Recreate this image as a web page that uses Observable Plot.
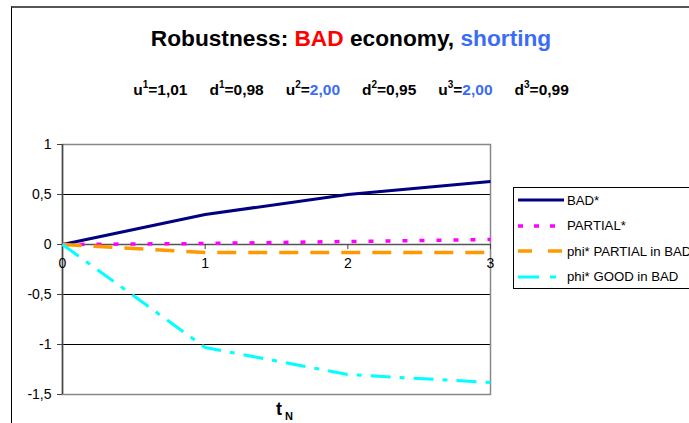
<!DOCTYPE html>
<html><head><meta charset="utf-8">
<script src="https://cdn.jsdelivr.net/npm/d3@7"></script>
<script src="https://cdn.jsdelivr.net/npm/@observablehq/plot@0.6"></script>
<style>
body{margin:0;background:#fff;font-family:"Liberation Sans",Arial,sans-serif;}
#wrap{position:relative;width:689px;height:423px;overflow:hidden;background:#fff;}
#border{position:absolute;left:11px;top:6px;width:700px;height:440px;border-top:2px solid #555;border-left:1px solid #000;}
#title{position:absolute;left:0;top:25px;width:702px;text-align:center;font-weight:bold;font-size:22.7px;color:#000;white-space:nowrap;}
#sub{position:absolute;left:0;top:81px;width:702px;text-align:center;font-weight:bold;font-size:15.5px;color:#000;white-space:nowrap;}
#sub span.it{margin:0 11px;}
#sub sup{font-size:10px;vertical-align:7px;line-height:0;}
.blue{color:#3a6cf4;}
.red{color:#ff0000;}
#chart{position:absolute;left:0;top:0;}
#xlab{position:absolute;left:276px;top:399px;font-weight:bold;font-size:18px;}
#xlab sub{font-size:11px;vertical-align:-5px;line-height:0;margin-left:3px;}
#legend{position:absolute;left:513px;top:187px;width:200px;height:100px;border:1px solid #000;background:#fff;font-size:13.2px;}
#legend .row{position:absolute;left:3px;height:20px;display:flex;align-items:center;white-space:nowrap;}
#legend svg{margin-right:2px;}
</style></head>
<body>
<div id="wrap">
  <div id="border"></div>
  <div id="chart"></div>
  <div id="title">Robustness: <span class="red">BAD</span> economy, <span class="blue">shorting</span></div>
  <div id="sub"></div>
  <div id="xlab">t<sub>N</sub></div>
  <div id="legend"></div>
</div>
<script>
const tN = [0, 1, 2, 3];
const badStar = [0, 0.30, 0.50, 0.63];
const partialStar = [0, 0.01, 0.03, 0.05];
const phiPartialInBad = [0, -0.08, -0.08, -0.08];
const phiGoodInBad = [0, -1.03, -1.30, -1.38];
const seriesNames = ["BAD*", "PARTIAL*", "phi* PARTIAL in BAD", "phi* GOOD in BAD"];
const seriesColors = ["#000080", "#ff00ff", "#ff9900", "#00ffff"];
const seriesDash = [null, "5,12", "19,12", "20,9,5,9"];
const legendDash = [null, "5,11", "14,16", "21,11,6,20"];
const seriesWidth = [3, 3.5, 3.5, 3];
const yTicks = [1, 0.5, 0, -0.5, -1, -1.5];
const gridValues = [0.5, -0.5, -1];
const params = [["u","1","1,01",false],["d","1","0,98",false],["u","2","2,00",true],["d","2","0,95",false],["u","3","2,00",true],["d","3","0,99",false]];

const allSeries = [badStar, partialStar, phiPartialInBad, phiGoodInBad];
const rows = allSeries.map((vals, i) => tN.map((t, j) => ({t, v: vals[j], s: seriesNames[i]})));

const W = 689, H = 423, mL = 62, mR = 199, mT = 144, mB = 29;
const yDomain = [-1.5, 1];
const plotH = H - mT - mB;
const zeroOffset = -plotH * (0 - yDomain[0]) / (yDomain[1] - yDomain[0]);
const comma = d => String(d).replace(".", ",");

const chart = Plot.plot({
  width: W, height: H,
  marginLeft: mL, marginRight: mR, marginTop: mT, marginBottom: mB,
  style: {fontFamily: '"Liberation Sans", Arial, sans-serif', fontSize: "14px", color: "#000", background: "transparent"},
  x: {domain: [0, 3]},
  y: {domain: yDomain},
  marks: [
    Plot.ruleY(gridValues, {stroke: "#000", strokeWidth: 1, strokeOpacity: 1}),
    Plot.frame({stroke: "#888", strokeWidth: 1.5}),
    Plot.ruleY([0], {stroke: "#555", strokeWidth: 1.5}),
    Plot.ruleX([0], {stroke: "#444", strokeWidth: 1.5}),
    Plot.axisY({ticks: yTicks, tickFormat: comma, tickSize: 5, tickPadding: 6, label: null, stroke: "#444", fill: "#000", strokeOpacity: 1, fontSize: 14}),
    Plot.axisX({ticks: tN, tickSize: 5, tickPadding: 9, label: null, dy: zeroOffset, tickFormat: d => String(d), stroke: "#444", fill: "#000", strokeOpacity: 1, fontSize: 14}),
    ...rows.map((r, i) => Plot.line(r, {x: "t", y: "v", stroke: seriesColors[i], strokeWidth: seriesWidth[i], strokeDasharray: seriesDash[i], curve: "linear", strokeLinecap: "butt"}))
  ]
});
document.getElementById("chart").appendChild(chart);

const sub = document.getElementById("sub");
sub.innerHTML = params.map(([n, k, v, b]) => `<span class="it">${n}<sup>${k}</sup>=<span class="${b ? "blue" : ""}">${v}</span></span>`).join("");

const leg = document.getElementById("legend");
seriesNames.forEach((name, i) => {
  const row = document.createElement("div");
  row.className = "row";
  row.style.top = (2 + i * 25.5) + "px";
  const dash = legendDash[i] ? `stroke-dasharray="${legendDash[i]}"` : "";
  row.innerHTML = `<svg width="48" height="10"><line x1="1" y1="5" x2="47" y2="5" stroke="${seriesColors[i]}" stroke-width="${seriesWidth[i]}" ${dash}/></svg><span>${name}</span>`;
  leg.appendChild(row);
});
</script>
</body></html>
